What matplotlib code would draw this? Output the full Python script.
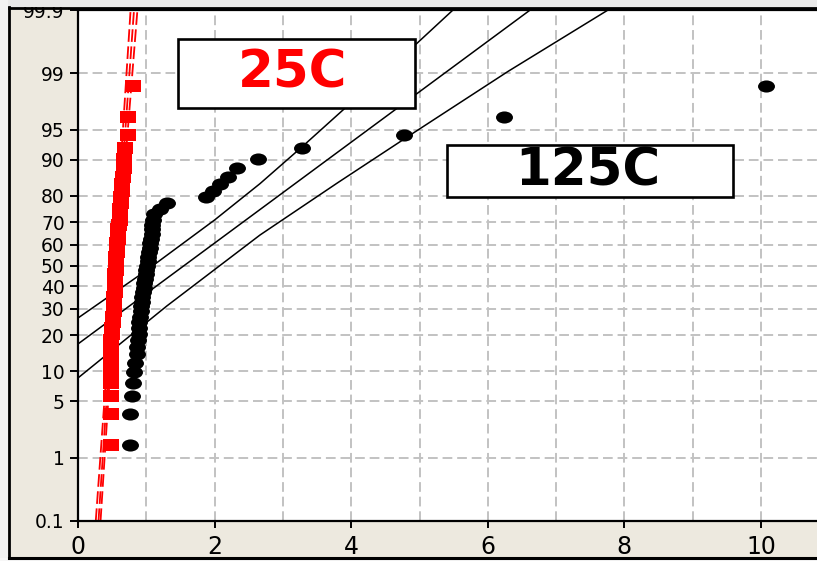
import numpy as np
import matplotlib
matplotlib.use("Agg")
import matplotlib.pyplot as plt
from matplotlib.path import Path
from matplotlib.patches import Rectangle
from matplotlib.lines import Line2D
from matplotlib.transforms import Affine2D
from statistics import NormalDist

# ---------------- data ----------------
pct_rank = [1.48, 3.59, 5.70, 7.81, 9.92, 12.03, 14.14, 16.24, 18.35, 20.46,
            22.57, 24.68, 26.79, 28.90, 31.01, 33.12, 35.23, 37.34, 39.45, 41.56,
            43.67, 45.78, 47.89, 50.00, 52.11, 54.22, 56.33, 58.44, 60.55, 62.66,
            64.77, 66.88, 68.99, 71.10, 73.21, 75.32, 77.43, 79.54, 81.65, 83.76,
            85.86, 87.97, 90.08, 92.19, 94.30, 96.41, 98.52]

x_125C = [0.76, 0.76, 0.79, 0.80, 0.82, 0.84, 0.86, 0.87, 0.88, 0.89,
          0.90, 0.90, 0.91, 0.92, 0.92, 0.93, 0.94, 0.95, 0.96, 0.97,
          0.98, 0.99, 1.00, 1.01, 1.02, 1.03, 1.04, 1.05, 1.06, 1.07,
          1.08, 1.08, 1.09, 1.10, 1.12, 1.20, 1.30, 1.88, 1.97, 2.08,
          2.20, 2.33, 2.63, 3.28, 4.77, 6.24, 10.07]

x_25C = [0.48, 0.48, 0.48, 0.48, 0.48, 0.48, 0.49, 0.49, 0.49, 0.50,
         0.50, 0.51, 0.51, 0.52, 0.52, 0.53, 0.53, 0.535, 0.535, 0.54,
         0.54, 0.545, 0.55, 0.55, 0.555, 0.56, 0.565, 0.57, 0.575, 0.58,
         0.585, 0.59, 0.60, 0.61, 0.61, 0.62, 0.63, 0.63, 0.64, 0.65,
         0.66, 0.67, 0.675, 0.69, 0.725, 0.73, 0.81]

# 125C fit line and confidence bounds (x, percent)
fit125_upper_x = [0.0, 1.0, 2.0, 2.665, 3.294, 4.0, 4.963, 5.49]
fit125_upper_p = [26.27, 47.6, 70.9, 83.9, 92.58, 97.56, 99.64, 99.90]
fit125_mid_x = [0.0, 6.62]
fit125_mid_p = [17.13, 99.90]
fit125_lower_x = [0.0, 1.3, 2.665, 3.8, 4.905, 6.3, 7.76]
fit125_lower_p = [8.69, 31.21, 64.39, 84.13, 94.52, 99.06, 99.90]

# 25C fit line and confidence bounds (x, percent)
fit25_a_x = [0.26, 0.53, 0.77]
fit25_b_x = [0.30, 0.55, 0.82]
fit25_c_x = [0.33, 0.57, 0.87]
fit25_p = [0.1, 50.0, 99.9]

y_ticks = [0.1, 1, 5, 10, 20, 30, 40, 50, 60, 70, 80, 90, 95, 99, 99.9]
y_ticklabels = ["0.1", "1", "5", "10", "20", "30", "40", "50", "60", "70",
                "80", "90", "95", "99", "99.9"]
x_ticks = [0, 2, 4, 6, 8, 10]
x_minor = [1, 3, 5, 7, 9]

label_25 = "25C"
label_125 = "125C"

# ---------------- probability scale ----------------
_nd = NormalDist()
_ppf = np.vectorize(lambda q: _nd.inv_cdf(min(max(q, 1e-9), 1 - 1e-9)) if q == q else np.nan,
                    otypes=[float])
_cdf = np.vectorize(lambda z: _nd.cdf(z) if z == z else np.nan, otypes=[float])


def fwd(p):
    return _ppf(np.asarray(p, dtype=float) / 100.0)


def inv(z):
    return _cdf(np.asarray(z, dtype=float)) * 100.0


W, H = 817, 561
BG = "#ede9df"
fig = plt.figure(figsize=(W / 100, H / 100), dpi=100, facecolor=BG)

ax_l, ax_r, ax_t, ax_b = 78, 817, 10, 521
ax = fig.add_axes([ax_l / W, 1 - ax_b / H, (ax_r - ax_l) / W, (ax_b - ax_t) / H])
ax.set_facecolor("white")
ax.set_yscale("function", functions=(fwd, inv))
ax.set_ylim(0.1, 99.9)
ax.set_xlim(0, (ax_r - ax_l) / 68.3)

ax.set_yticks(y_ticks)
ax.set_yticklabels(y_ticklabels)
ax.minorticks_off()
ax.set_xticks(x_ticks)
ax.set_xticks(x_minor, minor=True)
ax.tick_params(axis="y", which="both", length=6, width=1.4, pad=3.5,
               labelsize=13.5, colors="black")
ax.tick_params(axis="x", which="major", length=5, width=1.4, pad=5,
               labelsize=17, colors="black")
ax.tick_params(axis="x", which="minor", length=0)

grid_kw = dict(color="#c2c2c2", linestyle=(0, (5, 2.5)), linewidth=1.4)
ax.grid(True, which="major", axis="both", **grid_kw)
ax.grid(True, which="minor", axis="x", **grid_kw)
ax.set_axisbelow(True)

for s in ["left", "bottom", "top"]:
    ax.spines[s].set_color("black")
    ax.spines[s].set_linewidth(1.6)
ax.spines["right"].set_visible(False)

# 125C lines
for lx, lp in [(fit125_upper_x, fit125_upper_p), (fit125_mid_x, fit125_mid_p),
               (fit125_lower_x, fit125_lower_p)]:
    ax.plot(lx, lp, color="black", lw=1.1, zorder=2, clip_on=True)

# 25C dashed lines
for lx in [fit25_a_x, fit25_b_x, fit25_c_x]:
    ax.plot(lx, fit25_p, color="#ff0000", lw=1.3, linestyle=(0, (7, 2.5)), zorder=2)

# markers
ell = Path.unit_circle().transformed(Affine2D().scale(1.4, 1.0))
rect = Path([(-0.7, -0.5), (0.7, -0.5), (0.7, 0.5), (-0.7, 0.5), (-0.7, -0.5)],
            [Path.MOVETO, Path.LINETO, Path.LINETO, Path.LINETO, Path.CLOSEPOLY])

ax.plot(x_25C, pct_rank, linestyle="none", marker=rect, ms=12.2,
        color="#ff0000", mew=0, zorder=3)
ax.plot(x_125C, pct_rank, linestyle="none", marker=ell, ms=12.2,
        color="black", mew=0, zorder=3, clip_on=False)

# label boxes (axes fraction)
def px2ax(x, y):
    return (x - ax_l) / (ax_r - ax_l), (ax_b - y) / (ax_b - ax_t)

x0, y1 = px2ax(178, 39)
x1, y0 = px2ax(415, 108)
ax.add_patch(Rectangle((x0, y0), x1 - x0, y1 - y0, transform=ax.transAxes,
                       facecolor="white", edgecolor="black", lw=1.9, zorder=5))
cx, cy = px2ax(293, 74)
ax.text(cx, cy, label_25, transform=ax.transAxes, ha="center", va="center",
        fontsize=37, fontweight="bold", color="#ff0000", family="DejaVu Sans",
        zorder=6)

x0, y1 = px2ax(447, 145)
x1, y0 = px2ax(733, 197)
ax.add_patch(Rectangle((x0, y0), x1 - x0, y1 - y0, transform=ax.transAxes,
                       facecolor="white", edgecolor="black", lw=1.9, zorder=5))
cx, cy = px2ax(588, 172)
ax.text(cx, cy, label_125, transform=ax.transAxes, ha="center", va="center",
        fontsize=37, fontweight="bold", color="black", family="DejaVu Sans",
        zorder=6)

# window frame
def fx(px):
    return px / W


def fy(py):
    return 1 - py / H

fig.add_artist(Rectangle((0, fy(7)), 1, 7 / H, transform=fig.transFigure,
                         facecolor="#e9e9e9", edgecolor="none", zorder=10))
fig.add_artist(Rectangle((0, 0), fx(8), 1, transform=fig.transFigure,
                         facecolor="#f2f2f2", edgecolor="none", zorder=10))
fig.add_artist(Rectangle((0, 0), 1, 3 / H, transform=fig.transFigure,
                         facecolor="#f7f7f7", edgecolor="none", zorder=10))
fig.add_artist(Line2D([fx(8.5), 1], [fy(7.5), fy(7.5)], transform=fig.transFigure,
                      color="black", lw=2.0, zorder=11))
fig.add_artist(Line2D([fx(9), fx(9)], [fy(7), fy(558)], transform=fig.transFigure,
                      color="black", lw=2.0, zorder=11))
fig.add_artist(Line2D([fx(8.5), 1], [fy(557.5), fy(557.5)], transform=fig.transFigure,
                      color="black", lw=2.2, zorder=11))

fig.savefig("out.png", dpi=100, facecolor=BG)
